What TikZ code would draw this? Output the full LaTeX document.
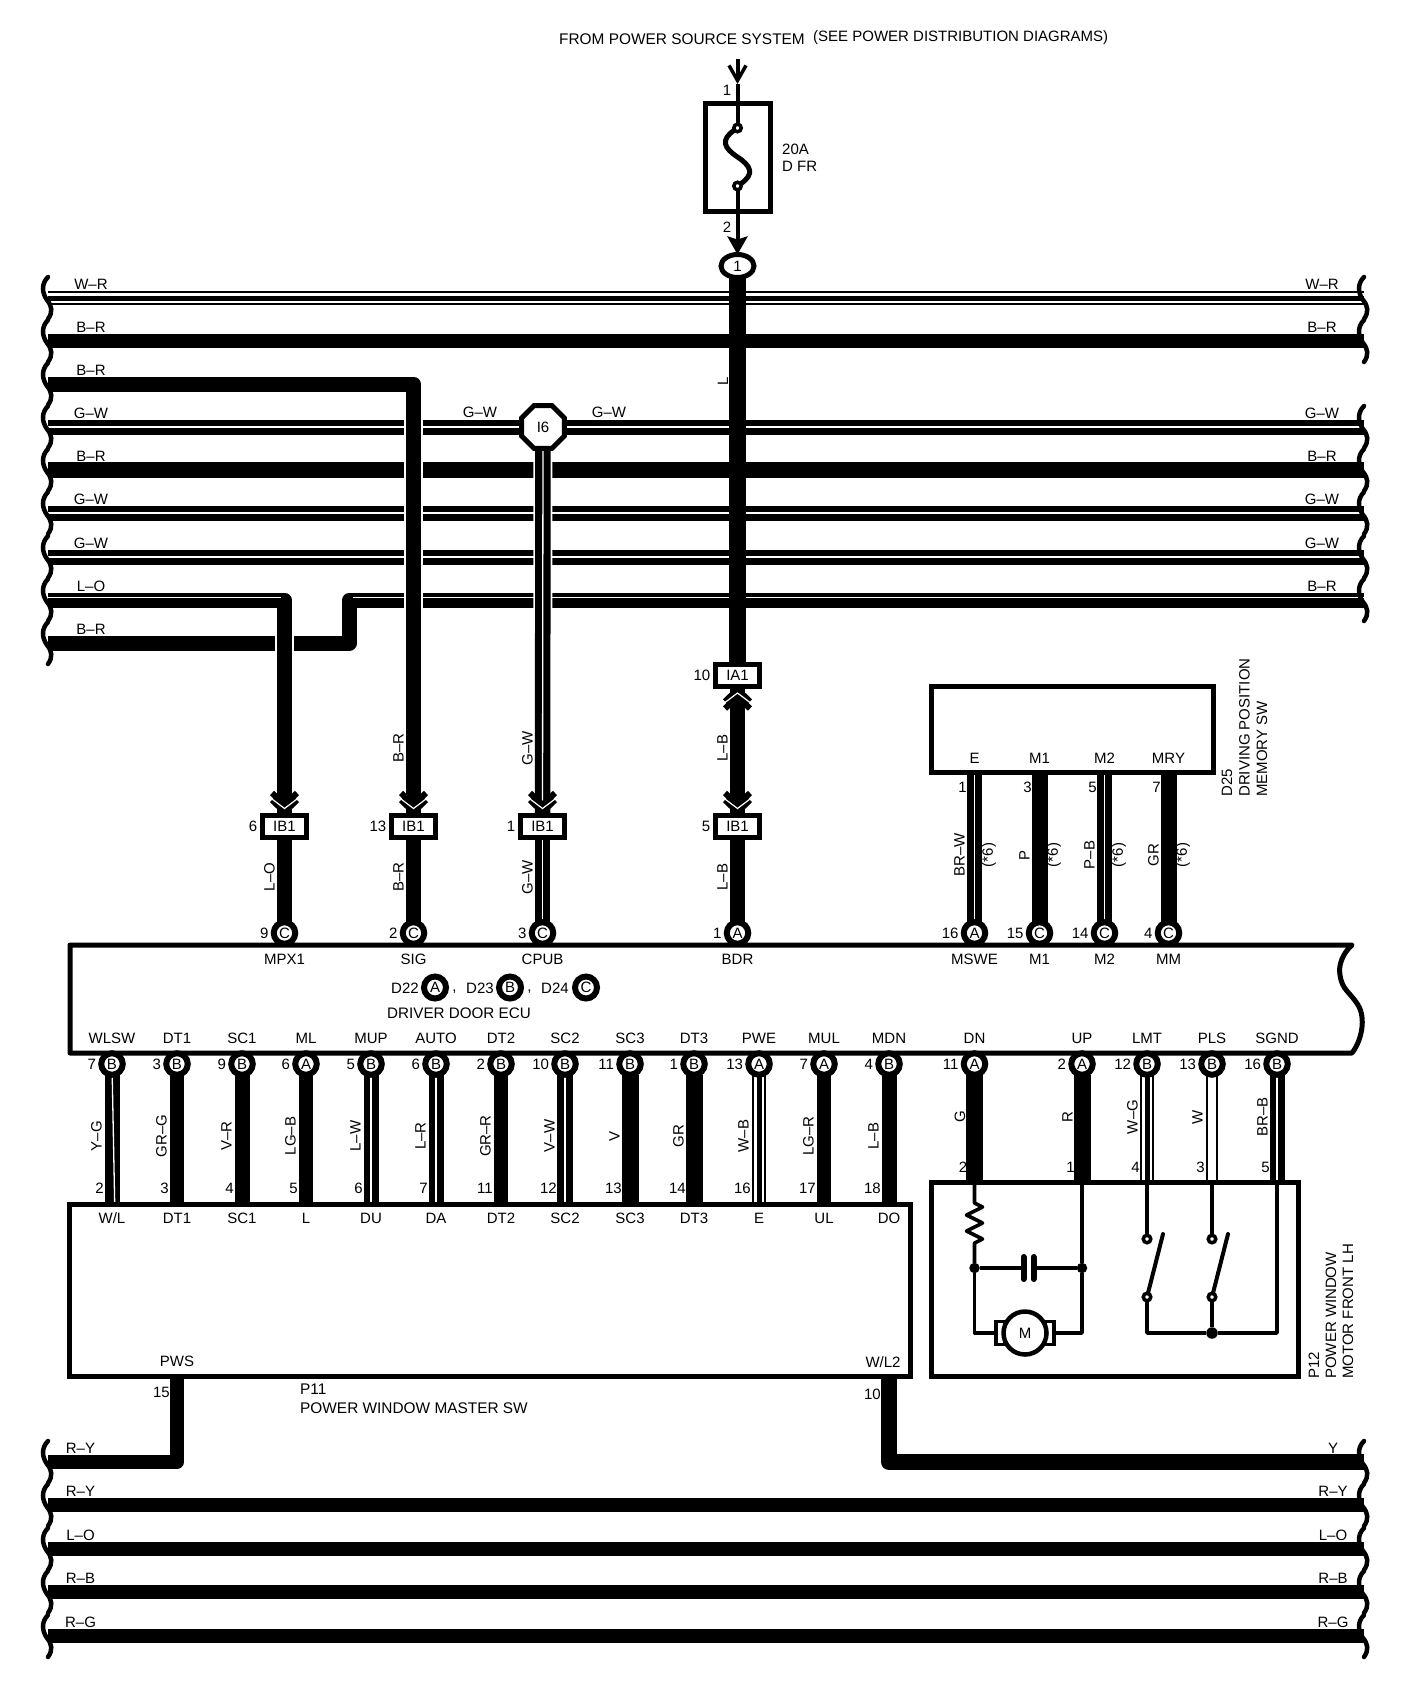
\documentclass[tikz,border=0pt]{standalone}
\usepackage{fontspec}
\setmainfont{Liberation Sans}
\usepackage{xcolor}
\usetikzlibrary{arrows.meta,positioning,shapes.geometric}
\pgfdeclarelayer{background}
\pgfsetlayers{background,main}
\tikzset{
    every node/.style={font=\fontsize{15}{18}\selectfont, inner sep=0pt},
    wire/.style={line width=#1, line join=round},
    stwire/.style={double=white, double distance=1.3pt, line width=(#1-1.3)/2, line join=round},
    tripwire/.style={line width=14, postaction={draw, white, line width=9.5}, postaction={draw, black, line width=5}},
    hollowire/.style={double=white, double distance=7.5pt, line width=2.5},
    casing/.style={white, line width=18.5},
    tracer/.style={white, line width=1.3},
    thinw/.style={line width=3.6, line join=round},
    box/.style={rectangle, draw, line width=5, outer sep=0pt},
    pinbox/.style={box, fill=white, minimum width=44, minimum height=22},
    conn/.style={circle, draw, line width=6, fill=white, minimum size=21.5, outer sep=0pt},
    bigconn/.style={circle, draw, line width=6, fill=white, minimum size=22, outer sep=0pt},
    term/.style={circle, draw, line width=3.5, fill=white, minimum size=7.5, outer sep=0pt},
    jdot/.style={circle, fill, minimum size=10.5, outer sep=0pt},
    chevron/.pic={
        \draw[line width=6] (-12.5,-22) -- (0,-10) -- (12.5,-22);
        \draw[line width=6] (-12.5,-15) -- (0,-3) -- (12.5,-15);
        \draw[white, line width=1.2] (-14.5,-17.5) -- (0,-6.5) -- (14.5,-17.5);
    },
    squiggle/.pic={
        \draw[line width=4.5, line cap=round] (0,-21) .. controls (-7,-14) and (-6,-5) .. (-1,2) .. controls (4,8) and (5,14) .. (0,21);
    }
}

\begin{document}
\begin{tikzpicture}[x=1pt, y=-1pt]
    \useasboundingbox (0,0) rectangle (1408,1696);

    % wire ends, left and right
    \foreach \y in {298,341,384,427,470,513,557,600,643,1462,1505,1549,1592,1636} {
        \coordinate (L\y) at (48,\y);
        \coordinate (R\y) at (1364,\y);
    }
    \coordinate (jogA) at (349.5,600);
    \coordinate (jogB) at (349.5,643);
    \coordinate (lblA) at (0,748);
    \coordinate (lblB) at (0,877);
    \coordinate (lblC) at (0,855);
    \coordinate (lblD) at (0,1136);
    \coordinate (lblE) at (0,1117);

    % supply and fuse
    \coordinate (feed) at (737.5,59);
    \coordinate (feedtip) at (737.5,84);
    \node[box, minimum width=65, minimum height=108] (fuse) at (737.5,157.5) {};
    \node[term] (fuseT) at (737.5,128) {};
    \node[term] (fuseB) at (737.5,186) {};
    \node[ellipse, draw, line width=5, fill=white, minimum width=33, minimum height=23, outer sep=0pt] (splice) at (737.5,266) {1};
    \node[regular polygon, regular polygon sides=8, draw, line width=5, fill=white, minimum size=46.5, outer sep=0pt] (joint) at (543,427) {I6};

    \node[anchor=west, font=\fontsize{15.4}{18}\selectfont] (src) at (559,39) {FROM POWER SOURCE SYSTEM};
    \node[anchor=west] (srcb) at (813,38) {(SEE POWER DISTRIBUTION DIAGRAMS)};
    \node (pinF1) at (727,90) {1};
    \node (pinF2) at (727,227) {2};
    \node[anchor=west, align=left, font=\fontsize{15}{17}\selectfont] (fuselbl) at (782,158) {20A\\D FR};
    \node (mainlbl) at (723,381) [rotate=90] {L};

    % in-line connectors
    \node[pinbox] (ia) at (737.5,675.5) {IA1};
    \node[left=5pt of ia] (iapin) {10};
    \foreach \nm/\x/\pin in {ibLO/284.5/6, ibBR/413.5/13, ibGW/542.5/1, ibLB/737.5/5} {
        \node[pinbox] (\nm) at (\x,826) {IB1};
        \node[left=5pt of \nm] (pin\nm) {\pin};
        \pic at (\nm.north) {chevron};
    }
    \pic[yscale=-1] at (ia.south) {chevron};

    % driver door ecu
    \draw[line width=5, line join=round] (70,945) -- (1352,945) .. controls (1343,953) and (1338,965) .. (1340,975) .. controls (1342,990) and (1350,992) .. (1358,1005) .. controls (1366,1018) and (1362,1040) .. (1352,1053) -- (70,1053) -- cycle;
    \foreach \sig/\x/\pin/\c in {MPX1/284.5/9/C, SIG/413.5/2/C, CPUB/542.5/3/C, BDR/737.5/1/A, MSWE/974.5/16/A, M1/1039.5/15/C, M2/1104.5/14/C, MM/1168.5/4/C} {
        \node[conn] (c\sig) at (\x,933) {\c};
        \node[left=5pt of c\sig] (n\sig) {\pin};
        \node (t\sig) at ([yshift=-26pt]c\sig) {\sig};
    }
    \foreach \sig/\x/\pin/\c in {WLSW/112/7/B, DT1/177/3/B, SC1/242/9/B, ML/306/6/A, MUP/371/5/B, AUTO/436/6/B, DT2/501/2/B, SC2/565/10/B, SC3/630/11/B, DT3/694/1/B, PWE/759/13/A, MUL/824/7/A, MDN/889/4/B, DN/974.5/11/A, UP/1082/2/A, LMT/1147/12/B, PLS/1212/13/B, SGND/1277/16/B} {
        \node[conn] (c\sig) at (\x,1064) {\c};
        \node[left=5pt of c\sig] (n\sig) {\pin};
        \node (t\sig) at ([yshift=26pt]c\sig) {\sig};
    }
    \node (d22) at (405,988) {D22};
    \node[bigconn] (d22c) at (435,987.5) {A};
    \node (cma) at (454.5,992) {,};
    \node (d23) at (480,988) {D23};
    \node[bigconn] (d23c) at (510,987.5) {B};
    \node (cmb) at (529.5,992) {,};
    \node (d24) at (555,988) {D24};
    \node[bigconn] (d24c) at (586,987.5) {C};
    \node[font=\fontsize{15.2}{18}\selectfont] (ecuname) at (459,1013) {DRIVER DOOR ECU};

    % memory switch
    \node[box, minimum width=282, minimum height=86.5, anchor=north west] (dps) at (931,686) {};
    \node[rotate=90, anchor=north west, align=left, font=\fontsize{15}{17.5}\selectfont] (dpsname) at (1221.5,797) {D25\\DRIVING POSITION\\MEMORY SW};
    \foreach \sig/\nm/\pin/\lbl in {MSWE/E/1/BR--W, M1/M1/3/P, M2/M2/5/P--B, MM/MRY/7/GR} {
        \node (e\sig) at ([yshift=14.5pt]c\sig |- dps.south) {\nm};
        \node[anchor=east] (f\sig) at ([shift={(-7.5pt,-15pt)}]c\sig |- dps.south) {\pin};
        \node[rotate=90] (g\sig) at ([xshift=-15pt]c\sig |- lblC) {\lbl};
        \node[rotate=90] (h\sig) at ([xshift=14.5pt]c\sig |- lblC) {(*6)};
    }

    % master switch
    \node[box, minimum width=841, minimum height=172, anchor=north west] (pwm) at (69.5,1204) {};
    \foreach \sig/\pin/\nm in {WLSW/2/{W/L}, DT1/3/DT1, SC1/4/SC1, ML/5/L, MUP/6/DU, AUTO/7/DA, DT2/11/DT2, SC2/12/SC2, SC3/13/SC3, DT3/14/DT3, PWE/16/E, MUL/17/UL, MDN/18/DO} {
        \node[anchor=east] (q\sig) at ([shift={(-8pt,16pt)}]c\sig |- pwm.north) {\pin};
        \node (r\sig) at ([yshift=-14pt]c\sig |- pwm.north) {\nm};
    }
    \node (pws) at (177,1361.5) {PWS};
    \node (wl2) at (883,1362) {W/L2};
    \node[anchor=east] (pws15) at (170,1392) {15};
    \node[anchor=east] (wl10) at (881,1394) {10};
    \node[anchor=west, align=left, font=\fontsize{15.4}{19}\selectfont] (pwmname) at (300,1399) {P11\\POWER WINDOW MASTER SW};

    % window motor
    \node[box, minimum width=367, minimum height=194, anchor=north west] (pwf) at (931,1182) {};
    \node[rotate=90, anchor=north west, align=left, font=\fontsize{15}{17}\selectfont] (pwfname) at (1308.5,1379) {P12\\POWER WINDOW\\MOTOR FRONT LH};
    \foreach \sig/\pin in {DN/2, UP/1, LMT/4, PLS/3, SGND/5}
        \node[anchor=east] (q\sig) at ([shift={(-7pt,15pt)}]c\sig |- pwf.north) {\pin};
    \node[jdot] (rj) at (974.5,1268) {};
    \node[jdot] (cj) at (1082,1268) {};
    \node[box, line width=3.6, minimum width=9, minimum height=23] (brushL) at (1000.5,1333) {};
    \node[box, line width=3.6, minimum width=9, minimum height=23] (brushR) at (1049.5,1333) {};
    \node[circle, draw, line width=4.5, fill=white, minimum size=43, outer sep=0pt] (motor) at (1025,1333) {M};
    \coordinate (capL) at (1023.5,1268);
    \coordinate (capR) at (1033.5,1268);
    \draw[line width=6, line cap=round] ([yshift=11pt]capL) -- ([yshift=-11pt]capL);
    \draw[line width=6, line cap=round] ([yshift=11pt]capR) -- ([yshift=-11pt]capR);
    \node[term] (swAT) at (1147,1239) {};
    \node[term] (swAB) at (1147,1297) {};
    \node[term] (swBT) at (1212,1239) {};
    \node[term] (swBB) at (1212,1297) {};
    \node[jdot, minimum size=11.5] (gj) at (1212,1333) {};
    \draw[line width=4, line cap=round] (swAB) -- ++(16,-63);
    \draw[line width=4, line cap=round] (swBB) -- ++(16,-63);

    % wire colours, left and right
    \foreach \y/\lbl in {298/W--R, 341/B--R, 384/B--R, 427/G--W, 470/B--R, 513/G--W, 557/G--W, 600/L--O, 643/B--R}
        \node (wl\y) at ([yshift=14pt]L\y -| 91,0) {\lbl};
    \foreach \y/\lbl in {298/W--R, 341/B--R, 427/G--W, 470/B--R, 513/G--W, 557/G--W, 600/B--R}
        \node (wr\y) at ([yshift=14pt]R\y -| 1322,0) {\lbl};
    \foreach \y/\lbl in {1462/R--Y, 1505/R--Y, 1549/L--O, 1592/R--B, 1636/R--G}
        \node (wl\y) at ([yshift=14pt]L\y -| 80.5,0) {\lbl};
    \foreach \y/\lbl in {1462/Y, 1505/R--Y, 1549/L--O, 1592/R--B, 1636/R--G}
        \node (wr\y) at ([yshift=14pt]R\y -| 1333,0) {\lbl};
    \node (gwa) at (480,412) {G--W};
    \node (gwb) at (609,412) {G--W};
    \foreach \y in {298,341,384,427,470,513,557,600,643,1462,1505,1549,1592,1636}
        \pic at (L\y) {squiggle};
    \foreach \y in {298,341,427,470,513,557,600,1462,1505,1549,1592,1636}
        \pic at (R\y) {squiggle};

    % vertical colours
    \foreach \sig/\lbl in {MPX1/L--O, SIG/B--R, CPUB/G--W, BDR/L--B}
        \node[rotate=90] (la\sig) at ([xshift=-15pt]c\sig |- lblB) {\lbl};
    \foreach \sig/\lbl in {SIG/B--R, CPUB/G--W, BDR/L--B}
        \node[rotate=90] (lb\sig) at ([xshift=-15pt]c\sig |- lblA) {\lbl};
    \foreach \sig/\lbl in {WLSW/Y--G, DT1/GR--G, SC1/V--R, ML/LG--B, MUP/L--W, AUTO/L--R, DT2/GR--R, SC2/V--W, SC3/V, DT3/GR, PWE/W--B, MUL/LG--R, MDN/L--B}
        \node[rotate=90] (lc\sig) at ([xshift=-15.5pt]c\sig |- lblD) {\lbl};
    \foreach \sig/\lbl in {DN/G, UP/R, LMT/W--G, PLS/W, SGND/BR--B}
        \node[rotate=90] (lc\sig) at ([xshift=-14.5pt]c\sig |- lblE) {\lbl};

    \begin{pgfonlayer}{background}
        % horizontal wires
        \draw[tripwire] (L298) -- (R298);
        \draw[wire=14] (L341) -- (R341);
        \foreach \y in {427,513,557} \draw[stwire=15] (L\y) -- (R\y);
        \draw[wire=16] (L470) -- (R470);
        \foreach \y in {1505,1549,1592,1636} \draw[wire=14] (L\y) -- (R\y);
        \draw[wire=15] (R600) -- (jogA) -- (jogB) -- (L643);
        \draw[tracer] ([yshift=2.5pt]R600) -- ([yshift=2.5pt]R600 -| 353,0);
        % vertical wires
        \draw[casing] (L600) -| (ibLO);
        \draw[wire=15] (L600) -| (ibLO);
        \draw[tracer] ([yshift=2.5pt]L600) -- ([yshift=2.5pt]L600 -| 281,0);
        \draw[casing] (L384) -| (ibBR);
        \draw[wire=15] (L384) -| (ibBR);
        \draw[casing, line width=19] (joint) -- (ibGW);
        \draw[stwire=15.5] (joint) -- (ibGW);
        \draw[wire=17] (splice) -- (ia);
        \draw[wire=15.5] (ia) -- (ibLB);
        \draw[wire=15] (ibLO) -- (cMPX1);
        \draw[wire=15] (ibBR) -- (cSIG);
        \draw[stwire=15.5] (ibGW) -- (cCPUB);
        \draw[wire=15.5] (ibLB) -- (cBDR);
        % supply
        \draw[line width=4, -{Straight Barb[length=15pt,width=17pt,line width=3.5pt]}] (feed) -- (feedtip);
        \draw[line width=4] (feedtip) -- (fuseT);
        \draw[line width=5] (fuseT) .. controls (720,140) and (724,148) .. (737.5,157) .. controls (751,166) and (755,174) .. (fuseB);
        \draw[line width=4, -{Stealth[length=18pt,width=20pt,inset=3pt]}] (fuseB) -- (splice.north);
        % memory switch wires
        \draw[stwire=15.5] (dps.south -| cMSWE) -- (cMSWE);
        \draw[wire=16] (dps.south -| cM1) -- (cM1);
        \draw[stwire=14.5] (dps.south -| cM2) -- (cM2);
        \draw[wire=16] (dps.south -| cMM) -- (cMM);
        % ecu to master switch
        \foreach \sig/\w in {DT1/14, SC1/15, ML/14, DT2/14, SC3/17, DT3/17, MUL/14, MDN/15}
            \draw[wire=\w] (c\sig) -- (c\sig |- pwm.north);
        \foreach \sig/\w in {MUP/15, AUTO/15, SC2/16}
            \draw[stwire=\w] (c\sig) -- (c\sig |- pwm.north);
        \draw[wire=15] (cWLSW) -- (cWLSW |- pwm.north);
        \draw[tracer] ([xshift=2.7pt]cWLSW) -- ([xshift=2.7pt]cWLSW |- pwm.north);
        \draw[tripwire] (cPWE) -- (cPWE |- pwm.north);
        % ecu to motor
        \foreach \sig in {DN, UP} \draw[wire=17] (c\sig) -- (c\sig |- pwf.north);
        \draw[tripwire] (cLMT) -- (cLMT |- pwf.north);
        \draw[hollowire] (cPLS) -- (cPLS |- pwf.north);
        \draw[stwire=15] (cSGND) -- (cSGND |- pwf.north);
        % outgoing
        \draw[wire=14] (pws |- pwm.south) |- (L1462);
        \draw[wire=16] (pwm.south -| cMDN) |- (R1462);
        % inside the motor
        \draw[thinw] (pwf.north -| rj) -- ++(0,21) -- ++(8,4) -- ++(-16,8) -- ++(16,8) -- ++(-16,8) -- ++(16,8) -- ++(-8,4) -- (rj);
        \draw[thinw] (rj) -- (capL);
        \draw[thinw] (capR) -- (cj);
        \draw[thinw] (pwf.north -| cj) -- (cj);
        \draw[thinw] (rj) |- (brushL);
        \draw[thinw] (cj) |- (brushR);
        \draw[thinw] (pwf.north -| swAT) -- (swAT);
        \draw[thinw] (pwf.north -| swBT) -- (swBT);
        \draw[thinw] (swAB) |- (gj);
        \draw[thinw] (swBB) -- (gj);
        \draw[thinw] (gj) -| (pwf.north -| cSGND);
    \end{pgfonlayer}
\end{tikzpicture}
\end{document}
